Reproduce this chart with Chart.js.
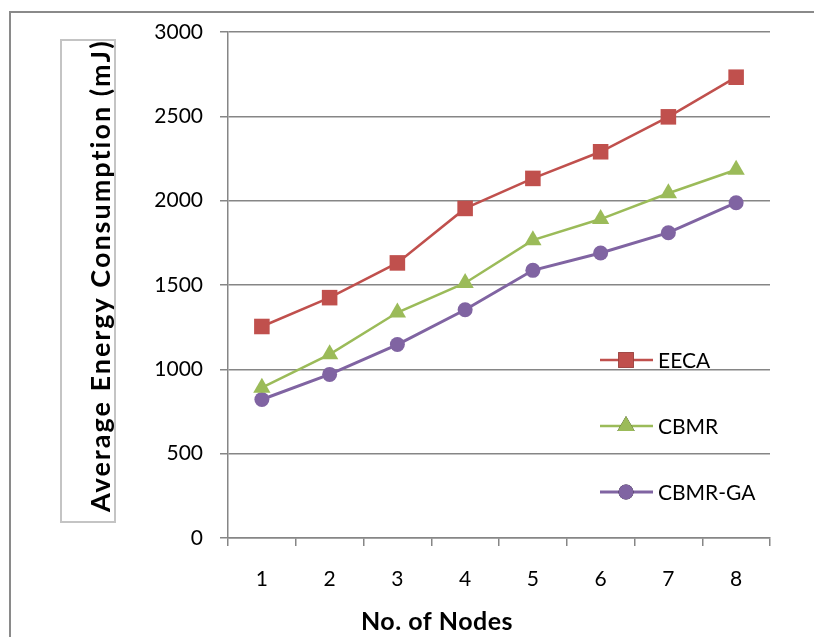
<!DOCTYPE html>
<html lang="en">
<head>
<meta charset="UTF-8">
<title>Average Energy Consumption</title>
<script src="https://cdn.jsdelivr.net/npm/chart.js"></script>
<style>
  html, body { margin: 0; padding: 0; background: #fff; }
  #wrap { width: 814px; height: 637px; }
</style>
</head>
<body>
<div id="wrap"><canvas id="energyChart" width="814" height="637"></canvas></div>
<script>
// data
const nodes = ['1', '2', '3', '4', '5', '6', '7', '8'];
const eeca = [1254, 1425, 1631, 1954, 2132, 2290, 2497, 2732];
const cbmr = [891, 1089, 1337, 1512, 1766, 1891, 2044, 2183];
const cbmrGa = [821, 970, 1147, 1353, 1587, 1690, 1810, 1988];
const yTicks = [0, 500, 1000, 1500, 2000, 2500, 3000];

const FONT = 'Lato, "Open Sans", sans-serif';
const GRID = '#868686';

// frame, y title box and axis titles
const framePlugin = {
  id: 'frame',
  beforeDraw(chart) {
    const c = chart.ctx;
    c.save();
    c.fillStyle = '#fff';
    c.fillRect(0, 0, chart.width, chart.height);
    c.strokeStyle = '#8a8a8a';
    c.lineWidth = 2;
    c.beginPath();
    c.moveTo(10, 640);
    c.lineTo(10, 12);
    c.lineTo(820, 12);
    c.stroke();
    // box round the y title
    c.strokeStyle = '#c4c4c4';
    c.strokeRect(61, 40, 54, 482);
    // y title, clipped by its box like the original
    c.beginPath();
    c.rect(62, 41, 52, 480);
    c.clip();
    c.translate(110, 512);
    c.rotate(-Math.PI / 2);
    c.fillStyle = '#000';
    c.font = 'bold 27px ' + FONT;
    c.letterSpacing = '2px';
    c.textAlign = 'left';
    c.textBaseline = 'alphabetic';
    c.fillText('Average Energy Consumption (mJ)', 0, 0);
    c.restore();

    // x title
    c.save();
    c.fillStyle = '#000';
    c.font = 'bold 25px ' + FONT;
    c.letterSpacing = '0.5px';
    c.textAlign = 'center';
    c.textBaseline = 'alphabetic';
    c.fillText('No. of Nodes', 437, 630);
    c.restore();
  }
};

// legend drawn inside the plot area like the original
const legendPlugin = {
  id: 'innerLegend',
  afterDraw(chart) {
    const c = chart.ctx;
    c.save();
    chart.data.datasets.forEach((ds, i) => {
      const y = 360 + i * 66;
      c.strokeStyle = ds.borderColor;
      c.lineWidth = ds.borderWidth;
      c.beginPath();
      c.moveTo(600, y);
      c.lineTo(653, y);
      c.stroke();
      Chart.helpers.drawPoint(c, {
        pointStyle: ds.pointStyle,
        radius: ds.pointRadius,
        borderWidth: 0
      }, 626, y);
      c.fillStyle = ds.pointBackgroundColor;
      c.fill();
      c.fillStyle = '#000';
      c.font = '21px ' + FONT;
      c.textAlign = 'left';
      c.textBaseline = 'middle';
      c.fillText(ds.label, 658, y + 1);
    });
    c.restore();
  }
};

new Chart(document.getElementById('energyChart'), {
  type: 'line',
  data: {
    labels: nodes,
    datasets: [
      {
        label: 'EECA', data: eeca,
        borderColor: '#C0504D', backgroundColor: '#C0504D',
        pointBackgroundColor: '#C0504D', pointBorderColor: '#C0504D',
        borderWidth: 2.5, pointStyle: 'rect', pointRadius: 11, pointBorderWidth: 0
      },
      {
        label: 'CBMR', data: cbmr,
        borderColor: '#9BBB59', backgroundColor: '#9BBB59',
        pointBackgroundColor: '#9BBB59', pointBorderColor: '#9BBB59',
        borderWidth: 2.5, pointStyle: 'triangle', pointRadius: 10, pointBorderWidth: 0
      },
      {
        label: 'CBMR-GA', data: cbmrGa,
        borderColor: '#8064A2', backgroundColor: '#8064A2',
        pointBackgroundColor: '#8064A2', pointBorderColor: '#8064A2',
        borderWidth: 3, pointStyle: 'circle', pointRadius: 7.5, pointBorderWidth: 0
      }
    ]
  },
  options: {
    responsive: false,
    animation: false,
    layout: { padding: { top: 32, right: 44, left: 0, bottom: 0 } },
    plugins: {
      legend: { display: false },
      tooltip: { enabled: false }
    },
    scales: {
      x: {
        offset: true,
        grid: { offset: true, drawOnChartArea: false, drawTicks: true, tickLength: 8, color: GRID, lineWidth: 1.5 },
        border: { color: GRID, width: 1.5 },
        ticks: { color: '#000', font: { family: FONT, size: 21 }, padding: 21 },
        afterFit(scale) { scale.height = 99; }
      },
      y: {
        min: 0, max: 3000,
        afterBuildTicks(scale) { scale.ticks = yTicks.map(v => ({ value: v })); },
        grid: { color: GRID, lineWidth: 1.5, tickLength: 8 },
        border: { color: GRID, width: 1.5 },
        ticks: { color: '#000', font: { family: FONT, size: 21 }, padding: 17, callback: v => String(v) },
        afterFit(scale) { scale.width = 228; }
      }
    }
  },
  plugins: [framePlugin, legendPlugin]
});
</script>
</body>
</html>
